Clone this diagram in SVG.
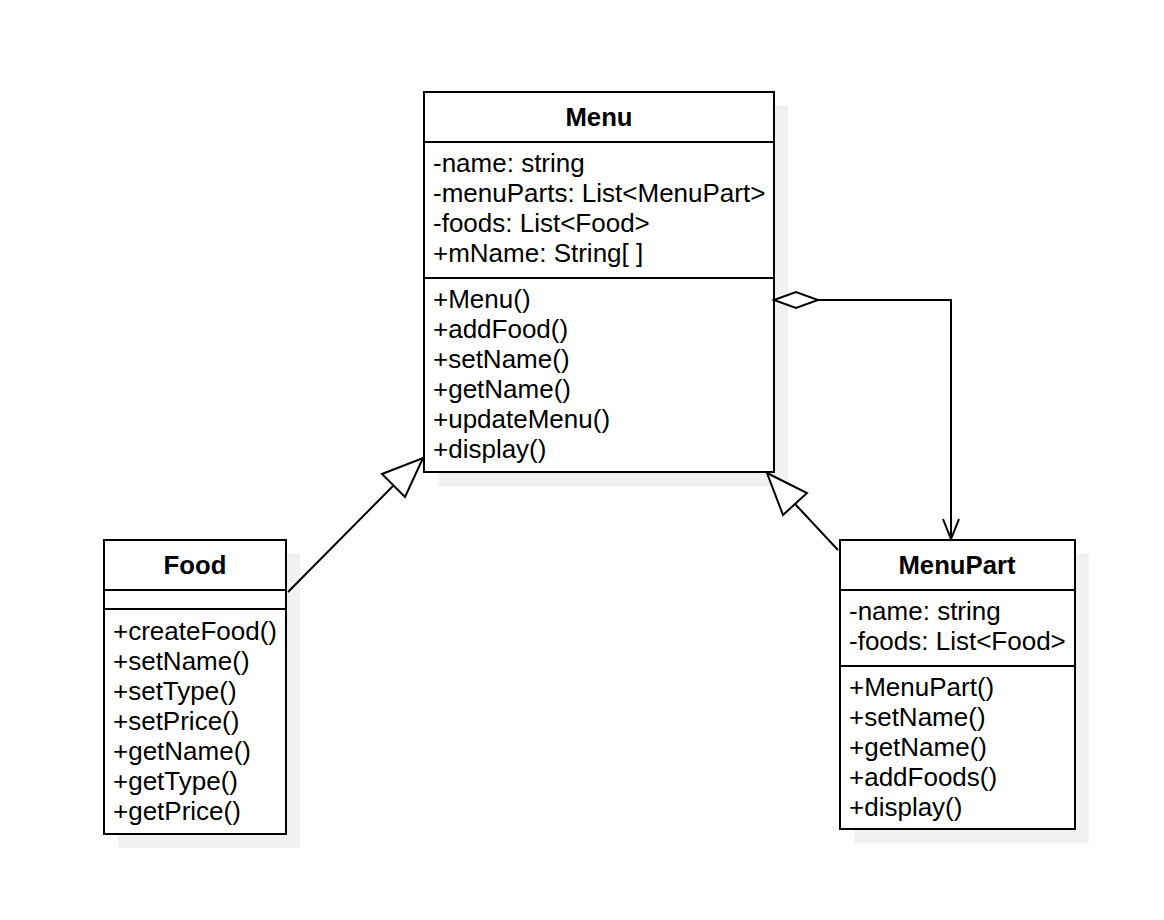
<svg xmlns="http://www.w3.org/2000/svg" width="1164" height="920" viewBox="0 0 1164 920">
<style>
.shadow{fill:#f1f1f1;stroke:none}
.box{fill:#ffffff;stroke:#000000;stroke-width:2}
.sep{stroke:#000000;stroke-width:2;fill:none}
.title{font-family:"Liberation Sans",Arial,sans-serif;font-size:25.7px;font-weight:bold;text-anchor:middle;fill:#000}
.txt{font-family:"Liberation Sans",Arial,sans-serif;font-size:26px;fill:#000}
.conn{stroke:#000000;stroke-width:2;fill:none}
.head{stroke:#000000;stroke-width:2;fill:#ffffff}
</style>
<rect width="1164" height="920" fill="#ffffff"/>

<g id="Menu">
  <rect class="shadow" x="438" y="106" width="350" height="380"/>
  <rect class="box" x="424" y="92" width="350" height="380"/>
  <line class="sep" x1="424" y1="142" x2="774" y2="142"/>
  <line class="sep" x1="424" y1="278" x2="774" y2="278"/>
  <text class="title" x="599" y="126">Menu</text>
  <text class="txt" x="433" y="172">-name: string</text>
  <text class="txt" x="433" y="202">-menuParts: List&lt;MenuPart&gt;</text>
  <text class="txt" x="433" y="232">-foods: List&lt;Food&gt;</text>
  <text class="txt" x="433" y="262">+mName: String[ ]</text>
  <text class="txt" x="433" y="308">+Menu()</text>
  <text class="txt" x="433" y="338">+addFood()</text>
  <text class="txt" x="433" y="368">+setName()</text>
  <text class="txt" x="433" y="398">+getName()</text>
  <text class="txt" x="433" y="428">+updateMenu()</text>
  <text class="txt" x="433" y="458">+display()</text>
</g>

<g id="Food">
  <rect class="shadow" x="118" y="554" width="182" height="294"/>
  <rect class="box" x="104" y="540" width="182" height="294"/>
  <line class="sep" x1="104" y1="590" x2="286" y2="590"/>
  <line class="sep" x1="104" y1="609" x2="286" y2="609"/>
  <text class="title" x="195" y="574">Food</text>
  <text class="txt" x="113" y="640">+createFood()</text>
  <text class="txt" x="113" y="670">+setName()</text>
  <text class="txt" x="113" y="700">+setType()</text>
  <text class="txt" x="113" y="730">+setPrice()</text>
  <text class="txt" x="113" y="760">+getName()</text>
  <text class="txt" x="113" y="790">+getType()</text>
  <text class="txt" x="113" y="820">+getPrice()</text>
</g>

<g id="MenuPart">
  <rect class="shadow" x="854" y="554" width="235" height="289"/>
  <rect class="box" x="840" y="540" width="235" height="289"/>
  <line class="sep" x1="840" y1="590" x2="1075" y2="590"/>
  <line class="sep" x1="840" y1="666" x2="1075" y2="666"/>
  <text class="title" x="957" y="574">MenuPart</text>
  <text class="txt" x="849" y="620">-name: string</text>
  <text class="txt" x="849" y="650">-foods: List&lt;Food&gt;</text>
  <text class="txt" x="849" y="696">+MenuPart()</text>
  <text class="txt" x="849" y="726">+setName()</text>
  <text class="txt" x="849" y="756">+getName()</text>
  <text class="txt" x="849" y="786">+addFoods()</text>
  <text class="txt" x="849" y="816">+display()</text>
</g>

<g id="connectors">
  <!-- aggregation Menu -> MenuPart -->
  <polyline class="conn" points="818,300 951,300 951,539"/>
  <polygon class="head" points="774,300 796,292 818,300 796,308"/>
  <polyline class="conn" points="943,519 951,539 959,519"/>
  <!-- generalization Food -> Menu -->
  <line class="conn" x1="288" y1="592" x2="393" y2="486"/>
  <polygon class="head" points="423,458 405,497 382,474"/>
  <!-- generalization MenuPart -> Menu -->
  <line class="conn" x1="838" y1="550" x2="795" y2="504"/>
  <polygon class="head" points="767,473 807,493 783,515"/>
</g>
</svg>
